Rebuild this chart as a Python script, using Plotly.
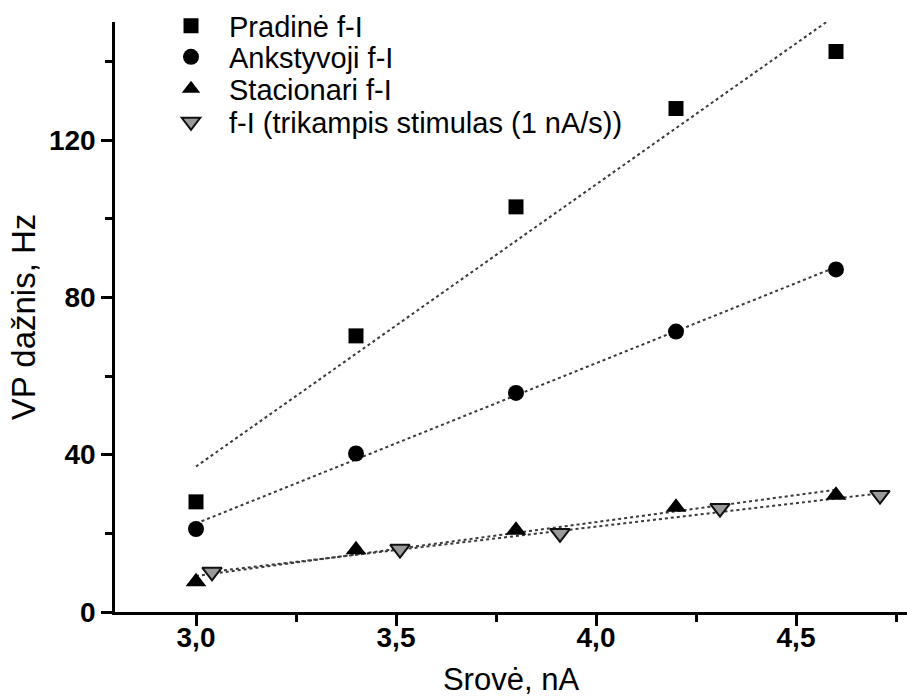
import numpy as np
import plotly.graph_objects as go

# Current steps (nA) and firing frequency (Hz)
current_steps = [3.0, 3.4, 3.8, 4.2, 4.6]
initial_freq = [28.0, 70.2, 103.0, 128.0, 142.5]
early_freq = [21.1, 40.3, 55.7, 71.3, 87.1]
steady_freq = [7.7, 15.8, 20.8, 26.6, 29.7]

ramp_current = [3.04, 3.51, 3.91, 4.31, 4.71]
ramp_freq = [10.2, 16.0, 20.0, 26.4, 29.7]

series_names = [
    "Pradinė f-I",
    "Ankstyvoji f-I",
    "Stacionari f-I",
    "f-I (trikampis stimulas (1 nA/s))",
]

x_tickvals = [3.0, 3.5, 4.0, 4.5]
y_tickvals = [0, 40, 80, 120]

FONT = "Liberation Sans, Arial, sans-serif"

series = [
    (current_steps, initial_freq, dict(symbol="square", size=15, color="black")),
    (current_steps, early_freq, dict(symbol="circle", size=16, color="black")),
    (current_steps, steady_freq, dict(symbol="triangle-up", size=18, color="black")),
    (ramp_current, ramp_freq, dict(symbol="triangle-down", size=17, color="#9a9a9a",
                                   line=dict(color="#111111", width=2))),
]

legend_rows = [0.9932, 0.9407, 0.8864, 0.8305]

fig = go.Figure()

# Linear regression lines (dotted), clipped by the axes
for xs, ys, _ in series:
    slope, intercept = np.polyfit(xs, ys, 1)
    xf = np.array([min(xs), max(xs)])
    fig.add_trace(go.Scatter(
        x=xf, y=slope * xf + intercept, mode="lines",
        line=dict(color="#3a3a3a", width=2, dash="dot"),
        showlegend=False, hoverinfo="skip",
    ))

# Data points, each in its own legend row
for i, ((xs, ys, mk), name) in enumerate(zip(series, series_names)):
    fig.add_trace(go.Scatter(
        x=xs, y=ys, mode="markers", name=name, marker=mk,
        legend="legend" if i == 0 else f"legend{i + 1}",
    ))

legend_common = dict(
    x=0.048, xanchor="left", yanchor="middle",
    font=dict(family=FONT, size=29, color="black"),
    bgcolor="rgba(0,0,0,0)", borderwidth=0, itemwidth=66,
)
fig.update_layout(
    legend=dict(y=legend_rows[0], **legend_common),
    legend2=dict(y=legend_rows[1], **legend_common),
    legend3=dict(y=legend_rows[2], **legend_common),
    legend4=dict(y=legend_rows[3], **legend_common),
)

axis_common = dict(
    showline=True, linecolor="black", linewidth=2.5,
    ticks="outside", ticklen=11, tickwidth=2.5, tickcolor="black",
    showgrid=False, zeroline=False, mirror=False,
    tickfont=dict(family=FONT, size=28, color="black", weight="bold"),
)

fig.update_xaxes(
    range=[2.7975, 4.7775], tickvals=x_tickvals, tickformat=".1f",
    ticklabelstandoff=-12,
    minor=dict(dtick=0.25, tick0=3.0, ticks="outside", ticklen=7, tickwidth=2.5, tickcolor="black"),
    title=dict(text="Srovė, nA", font=dict(family=FONT, size=31, color="black"), standoff=16),
    **axis_common,
)
fig.update_yaxes(
    range=[0, 150], tickvals=y_tickvals,
    minor=dict(dtick=20, tick0=0, ticks="outside", ticklen=7, tickwidth=2.5, tickcolor="black"),
    title=dict(text="VP dažnis, Hz", font=dict(family=FONT, size=33, color="black"), standoff=4),
    **axis_common,
)

fig.update_layout(
    width=907, height=699,
    margin=dict(l=115, r=0, t=22, b=87),
    paper_bgcolor="white", plot_bgcolor="white",
    separators=",.",
    font=dict(family=FONT, color="black"),
)

fig.write_html("out.html")
